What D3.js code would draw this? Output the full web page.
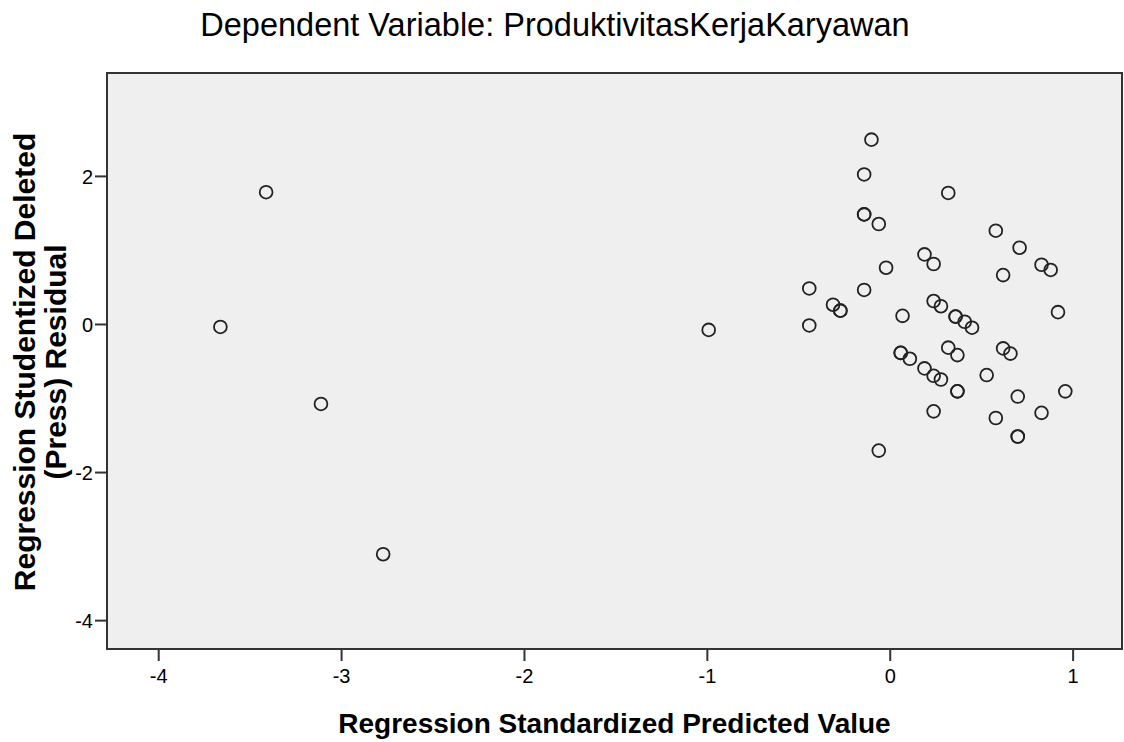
<!DOCTYPE html>
<html>
<head>
<meta charset="utf-8">
<script src="https://cdn.jsdelivr.net/npm/d3@7"></script>
<style>
  html, body { margin: 0; padding: 0; background: #ffffff; }
  svg { display: block; }
  text { font-family: "Liberation Sans", Arial, sans-serif; fill: #000; }
</style>
</head>
<body>
<svg id="chart" width="1124" height="742"></svg>
<script>
// ---- data ----
const titleText = "Dependent Variable: ProduktivitasKerjaKaryawan";
const xLabel = "Regression Standardized Predicted Value";
const yLabelLines = ["Regression Studentized Deleted", "(Press) Residual"];
const xTicks = [-4, -3, -2, -1, 0, 1];
const yTicks = [2, 0, -2, -4];
const xDomain = [-4.28, 1.27];
const yDomain = [-4.39, 3.39];

const predicted = [
  -3.66, -3.41, -3.11, -2.77, -0.99,
  -0.44, -0.44, -0.31, -0.27, -0.27, -0.14,
  -0.10, -0.14, -0.14, -0.14, -0.06, -0.02, -0.06,
  0.07, 0.06, 0.06, 0.11, 0.19, 0.24, 0.24, 0.28, 0.32,
  0.36, 0.36, 0.41, 0.45, 0.32, 0.37, 0.19, 0.24, 0.28,
  0.37, 0.37, 0.24, 0.53, 0.58, 0.62, 0.62, 0.66, 0.58,
  0.71, 0.70, 0.70, 0.70, 0.83, 0.88, 0.83, 0.92, 0.96
];
const residual = [
  -0.04, 1.78, -1.08, -3.11, -0.08,
  0.48, -0.02, 0.26, 0.18, 0.18, 0.46,
  2.49, 2.02, 1.48, 1.48, 1.35, 0.76, -1.71,
  0.11, -0.39, -0.39, -0.47, 0.94, 0.81, 0.31, 0.24, 1.77,
  0.10, 0.10, 0.03, -0.05, -0.32, -0.42, -0.60, -0.70, -0.75,
  -0.91, -0.91, -1.18, -0.69, 1.26, 0.66, -0.33, -0.40, -1.27,
  1.03, -0.98, -1.52, -1.52, 0.80, 0.73, -1.20, 0.16, -0.91
];

// ---- drawing ----
const svg = d3.select("#chart");
const plot = { left: 107, right: 1122, top: 73, bottom: 649 };

const x = d3.scaleLinear().domain(xDomain).range([plot.left, plot.right]);
const y = d3.scaleLinear().domain(yDomain).range([plot.bottom, plot.top]);

// plot background + frame
svg.append("rect")
  .attr("x", plot.left).attr("y", plot.top)
  .attr("width", plot.right - plot.left).attr("height", plot.bottom - plot.top)
  .attr("fill", "#efefef")
  .attr("stroke", "#333333").attr("stroke-width", 2);

// axes
const xAxis = svg.append("g")
  .attr("transform", `translate(0,${plot.bottom})`)
  .call(d3.axisBottom(x).tickValues(xTicks).tickSize(12).tickPadding(8).tickFormat(d => String(d)));
const yAxis = svg.append("g")
  .attr("transform", `translate(${plot.left},0)`)
  .call(d3.axisLeft(y).tickValues(yTicks).tickSize(12).tickPadding(2).tickFormat(d => String(d)));

[xAxis, yAxis].forEach(g => {
  g.select(".domain").remove();
  g.selectAll(".tick line").attr("stroke", "#333333").attr("stroke-width", 2);
  g.selectAll(".tick text")
    .attr("font-family", "'Liberation Sans', Arial, sans-serif")
    .attr("font-size", 20).attr("fill", "#000");
});
yAxis.selectAll(".tick text").attr("dy", "0.36em");

// points
const pts = predicted.map((p, i) => ({ p, r: residual[i] }));
svg.append("g")
  .selectAll("circle")
  .data(pts)
  .join("circle")
  .attr("cx", d => x(d.p))
  .attr("cy", d => y(d.r))
  .attr("r", 6.4)
  .attr("fill", "none")
  .attr("stroke", "#222222")
  .attr("stroke-width", 1.8);

// title
svg.append("text")
  .attr("x", 555).attr("y", 36)
  .attr("text-anchor", "middle")
  .attr("font-size", 32.5)
  .text(titleText);

// x label
svg.append("text")
  .attr("x", (plot.left + plot.right) / 2).attr("y", 733)
  .attr("text-anchor", "middle")
  .attr("font-size", 28).attr("font-weight", "bold")
  .text(xLabel);

// y label (two lines, rotated)
const yl = svg.append("g");
yLabelLines.forEach((line, i) => {
  yl.append("text")
    .attr("transform", `translate(${35 + i * 31},362) rotate(-90)`)
    .attr("text-anchor", "middle")
    .attr("font-size", 30).attr("font-weight", "bold")
    .text(line);
});
</script>
</body>
</html>
